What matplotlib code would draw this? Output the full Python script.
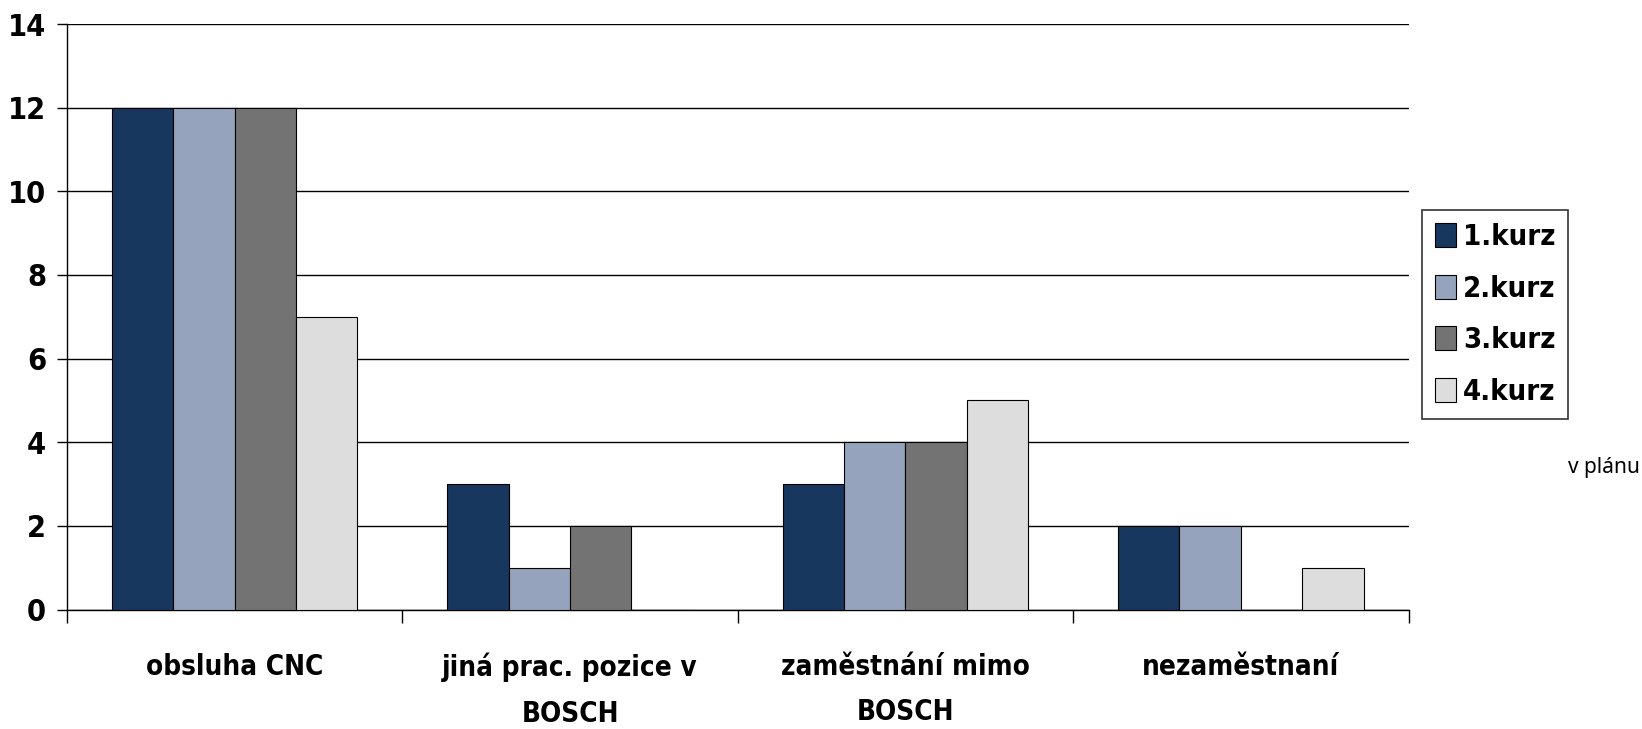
import matplotlib
matplotlib.use("Agg")
import matplotlib.pyplot as plt
import numpy as np

categories = ["obsluha CNC", "jiná prac. pozice v\nBOSCH", "zaměstnání mimo\nBOSCH", "nezaměstnaní"]
series_names = ["1.kurz", "2.kurz", "3.kurz", "4.kurz"]
kurz1 = [12, 3, 3, 2]
kurz2 = [12, 1, 4, 2]
kurz3 = [12, 2, 4, 0]
kurz4 = [7, 0, 5, 1]
colors = ["#17375E", "#95A3BC", "#737373", "#DDDDDD"]

# condensed bold, close to the narrow font of the original
plt.rcParams["font.family"] = ["DejaVu Sans"]
plt.rcParams["font.stretch"] = "condensed"

fig = plt.figure(figsize=(16.42, 7.29), dpi=100)
ax = fig.add_axes([67 / 1642, 1 - 609.5 / 729, (1408.5 - 67) / 1642, (609.5 - 24) / 729])

x = np.arange(len(categories))
width = 0.183
values = [kurz1, kurz2, kurz3, kurz4]
for i, (vals, name, c) in enumerate(zip(values, series_names, colors)):
    ax.bar(x + (i - 1.5) * width, vals, width, color=c, edgecolor="black",
           linewidth=0.8, label=name, zorder=3)

ax.set_xlim(-0.5, len(categories) - 0.5)
ax.set_ylim(0, 14)
ax.set_yticks(range(0, 15, 2))
ax.yaxis.grid(True, color="black", linewidth=1.0, zorder=0)
ax.set_axisbelow(True)

ax.set_xticks(np.arange(-0.5, len(categories), 1.0))
ax.set_xticklabels([])
ax.set_xticks(x, minor=True)
ax.set_xticklabels(categories, minor=True, fontsize=20, fontweight="bold",
                   linespacing=1.8, va="top")
ax.tick_params(axis="x", which="minor", length=0, pad=31)
ax.tick_params(axis="x", which="major", length=9, width=1, direction="out")
ax.tick_params(axis="y", length=7, width=1, direction="out", labelsize=22, pad=8)
for lbl in ax.get_yticklabels():
    lbl.set_fontweight("bold")

for side in ["left", "bottom"]:
    ax.spines[side].set_linewidth(1.0)
    ax.spines[side].set_color("black")
ax.spines["right"].set_visible(False)
ax.spines["top"].set_visible(False)

leg = fig.legend(loc="upper left", bbox_to_anchor=(1422 / 1642, 1 - 210 / 729),
                 frameon=True, fancybox=False, edgecolor="black",
                 prop={"size": 21, "weight": "bold", "stretch": "condensed"},
                 handlelength=0.7, handleheight=0.9, handletextpad=0.25,
                 labelspacing=0.8, borderpad=0.45, borderaxespad=0)
leg.get_frame().set_linewidth(1.2)

fig.text(1640 / 1642, 1 - 467 / 729, "v plánu", fontsize=15, fontstretch="normal",
         family=["Noto Sans", "DejaVu Sans"], va="center", ha="right")

fig.savefig("out.png", dpi=100)
